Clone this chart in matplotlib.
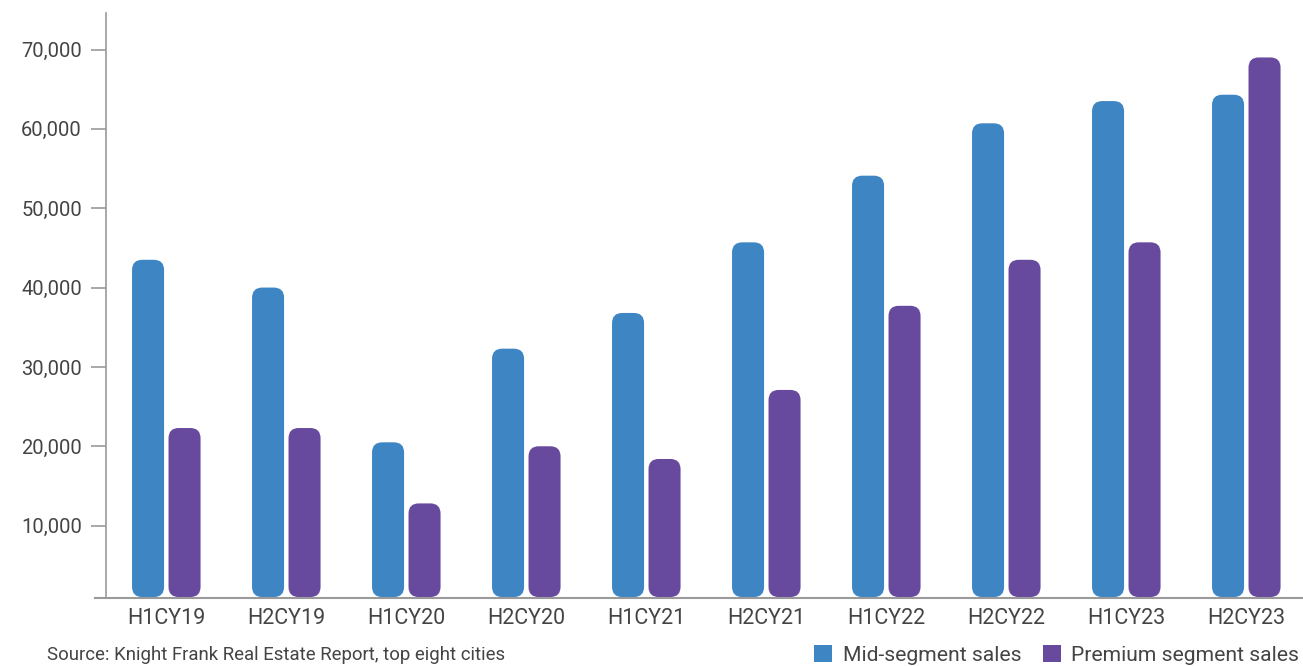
import matplotlib.pyplot as plt
from matplotlib.patches import FancyBboxPatch, Patch
from matplotlib.ticker import FuncFormatter

# Datos
periods = ["H1CY19", "H2CY19", "H1CY20", "H2CY20", "H1CY21",
           "H2CY21", "H1CY22", "H2CY22", "H1CY23", "H2CY23"]
mid_sales = [43500, 40000, 20500, 32300, 36800, 45700, 54100, 60700, 63500, 64300]
premium_sales = [22300, 22300, 12800, 20000, 18400, 27100, 37700, 43500, 45700, 69000]

mid_color = "#3d85c3"
prem_color = "#674a9e"
text_color = "#444444"
axis_color = "#9a9a9a"

plt.rcParams["font.family"] = ["Roboto", "DejaVu Sans"]

W, H, DPI = 1303, 666, 100
fig = plt.figure(figsize=(W / DPI, H / DPI), dpi=DPI)
ax = fig.add_axes([106.3 / W, 68 / H, 1200 / W, 585 / H])

ymin, ymax = 880, 74600
ax.set_xlim(-0.5, len(periods) - 0.5)
ax.set_ylim(ymin, ymax)

# aspecto para esquinas redondeadas (unidades y por unidad x)
ax_w_px = 1200
ax_h_px = 585
aspect = ((ymax - ymin) / ax_h_px) / ((len(periods)) / ax_w_px)

bar_w = 0.267
offset = 0.152
base = 1000
radius = 0.085

for i in range(len(periods)):
    for val, off, col in [(mid_sales[i], -offset, mid_color),
                          (premium_sales[i], offset, prem_color)]:
        p = FancyBboxPatch((i + off - bar_w / 2, base), bar_w, val - base,
                           boxstyle=f"round,pad=0,rounding_size={radius}",
                           mutation_aspect=aspect, facecolor=col,
                           edgecolor="none")
        ax.add_patch(p)

# Ejes
for s in ["top", "right", "bottom"]:
    ax.spines[s].set_visible(False)
ax.spines["left"].set_color(axis_color)
ax.spines["left"].set_linewidth(1.2)
ax.plot([-11 / ax_w_px, 1.0], [0, 0], transform=ax.transAxes, color=axis_color,
        lw=1.5, clip_on=False)

ax.set_yticks(range(10000, 70001, 10000))
ax.yaxis.set_major_formatter(FuncFormatter(lambda v, p: f"{int(v):,}"))
ax.tick_params(axis="y", length=11, width=1.2, color=axis_color,
               labelsize=14.5, labelcolor=text_color, pad=6.5)
ax.set_xticks(range(len(periods)))
ax.set_xticklabels(periods)
ax.tick_params(axis="x", length=0, labelsize=15.5, labelcolor=text_color, pad=7.5)

# Fuente
fig.text(47 / W, 1 - 655 / H, "Source: Knight Frank Real Estate Report, top eight cities",
         fontsize=13.4, color=text_color, va="center", ha="left")

# Leyenda
handles = [Patch(facecolor=mid_color, label="Mid-segment sales"),
           Patch(facecolor=prem_color, label="Premium segment sales")]
fig.legend(handles=handles, loc="center left", bbox_to_anchor=(814 / W, 1 - 655 / H),
           ncol=2, frameon=False, fontsize=15.2, labelcolor=text_color,
           handlelength=0.87, handleheight=0.87, handletextpad=0.5,
           columnspacing=1.0, borderaxespad=0, borderpad=0)

fig.savefig("out.png", dpi=DPI)
